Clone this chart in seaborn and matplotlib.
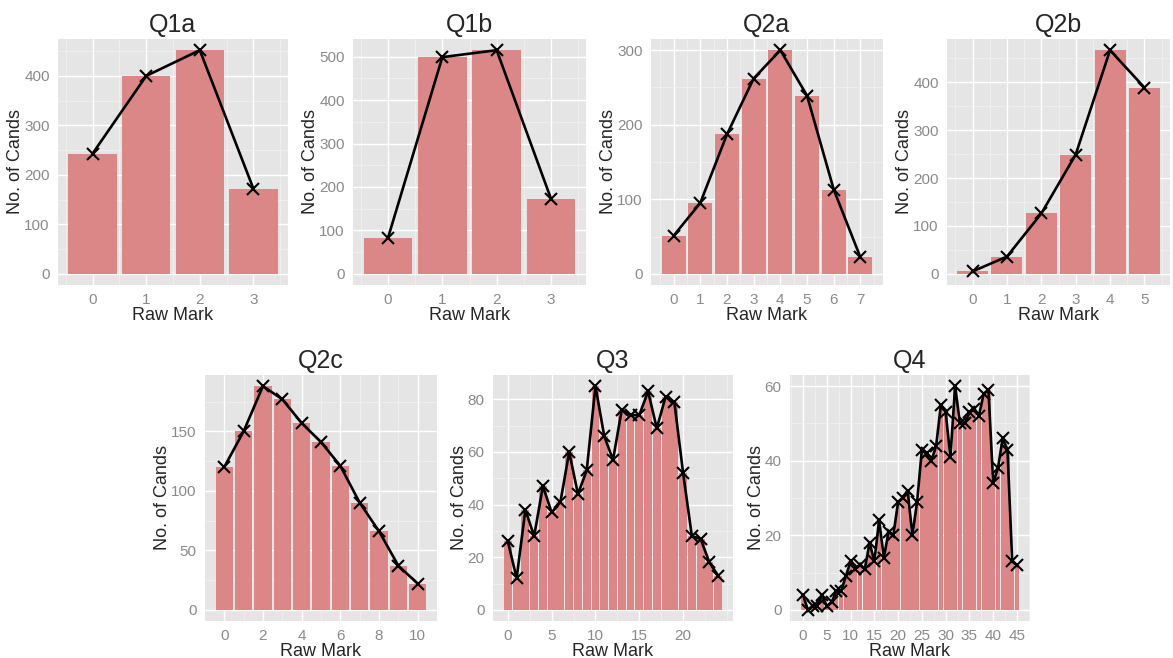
import numpy as np
import pandas as pd
import matplotlib
matplotlib.use("Agg")
import matplotlib.pyplot as plt
from matplotlib.ticker import MultipleLocator
import seaborn as sns

# -------------------------------------------------------
# Data: number of candidates per raw mark, per question
# -------------------------------------------------------
questions = ["Q1a", "Q1b", "Q2a", "Q2b", "Q2c", "Q3", "Q4"]

q1a_counts = [243, 400, 452, 172]
q1b_counts = [83, 499, 515, 173]
q2a_counts = [51, 95, 187, 262, 300, 239, 113, 22]
q2b_counts = [5, 36, 126, 249, 467, 389]
q2c_counts = [120, 150, 188, 177, 157, 141, 121, 90, 66, 37, 22]
q3_counts = [26, 12, 38, 28, 47, 37, 41, 60, 44, 53, 85, 66, 57, 76, 74, 74,
             83, 69, 81, 79, 52, 28, 27, 18, 13]
q4_counts = [4, 0, 1, 1, 4, 1, 2, 5, 5, 9, 13, 11, 12, 11, 18, 13, 24, 14,
             21, 20, 29, 30, 32, 20, 29, 43, 42, 40, 44, 55, 53, 41, 60, 50,
             50, 53, 54, 52, 58, 59, 34, 38, 46, 43, 13, 12]

all_counts = [q1a_counts, q1b_counts, q2a_counts, q2b_counts,
              q2c_counts, q3_counts, q4_counts]

# tick spacing on each axis (x, y)
x_steps = [1, 1, 1, 1, 2, 5, 5]
y_steps = [100, 100, 100, 100, 50, 20, 20]

# -------------------------------------------------------
# Layout (panel boxes in pixels: left, top, right, bottom)
# -------------------------------------------------------
W, H = 1173, 658
panels = [
    (58, 39, 288, 285),
    (353, 39, 586, 285),
    (651, 39, 883, 285),
    (947, 39, 1170, 285),
    (205, 375, 437, 621),
    (493, 375, 733, 621),
    (790, 375, 1030, 621),
]

BAR_COLOR = "#DC8787"
PANEL_BG = "#E5E5E5"
TICK_GREY = "#8A8A8A"

sns.set_style("white")
plt.rcParams["font.family"] = ["Liberation Sans", "DejaVu Sans"]

fig = plt.figure(figsize=(W / 100, H / 100), dpi=100)

for name, counts, xs, ys, (l, t, r, b) in zip(questions, all_counts, x_steps, y_steps, panels):
    ax = fig.add_axes([l / W, 1 - b / H, (r - l) / W, (b - t) / H])
    df = pd.DataFrame({"mark": np.arange(len(counts)), "count": counts})

    sns.barplot(data=df, x="mark", y="count", native_scale=True, width=0.9,
                color=BAR_COLOR, saturation=1, linewidth=0, ax=ax, zorder=2)
    sns.lineplot(data=df, x="mark", y="count", color="black", linewidth=1.9,
                 marker="x", markersize=8, markeredgewidth=1.5,
                 markeredgecolor="black", ax=ax, zorder=3)

    # ggplot-like expansion
    n = len(counts)
    lo, hi = -0.45, n - 1 + 0.45
    pad = 0.05 * (hi - lo)
    ax.set_xlim(lo - pad, hi + pad)
    ymax = max(counts)
    ax.set_ylim(-0.05 * ymax, 1.05 * ymax)

    ax.xaxis.set_minor_locator(MultipleLocator(xs / 2))
    ax.yaxis.set_major_locator(MultipleLocator(ys))
    ax.yaxis.set_minor_locator(MultipleLocator(ys / 2))
    ax.set_xticks([v for v in range(0, n, xs)])

    ax.set_facecolor(PANEL_BG)
    ax.grid(which="major", color="white", linewidth=1.0, zorder=0)
    ax.grid(which="minor", color="#F2F2F2", linewidth=0.5, zorder=0)
    ax.set_axisbelow(True)
    for s in ax.spines.values():
        s.set_visible(False)

    ax.tick_params(axis="both", which="major", length=3, width=0.8,
                   color="#7F7F7F", labelcolor=TICK_GREY, labelsize=11, pad=3)
    ax.tick_params(axis="both", which="minor", length=0)

    ax.set_title(name, fontsize=18, pad=5)
    ax.set_xlabel("Raw Mark", fontsize=13, labelpad=0)
    ax.set_ylabel("No. of Cands", fontsize=13, labelpad=0)

fig.savefig("out.png", dpi=100)
